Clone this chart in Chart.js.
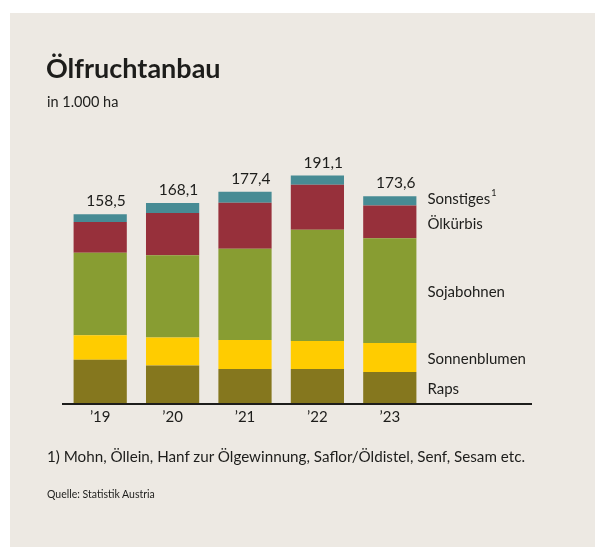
<!DOCTYPE html>
<html>
<head>
<meta charset="utf-8">
<script src="https://cdn.jsdelivr.net/npm/chart.js@4"></script>
<style>
  html, body { margin: 0; padding: 0; background: #ffffff; }
  #wrap { position: relative; width: 595px; height: 547px; overflow: hidden; }
  #panel { position: absolute; left: 10px; top: 13px; right: 0; bottom: 0; background: #ede9e3; }
  #graph { position: absolute; left: 0; top: 0; }
  .txt { position: absolute; font-family: Lato, "Open Sans", sans-serif; color: #1d1d1b; white-space: nowrap; }
  #title { left: 46px; top: 51px; font-size: 27px; font-weight: 700; }
  #unit { left: 47px; top: 93px; font-size: 14.5px; }
  #note { left: 47px; top: 447px; font-size: 15.2px; }
  #source { left: 47px; top: 488px; font-size: 10.5px; }
</style>
</head>
<body>
<div id="wrap">
  <div id="panel"></div>
  <canvas id="graph" width="595" height="547"></canvas>
  <div class="txt" id="title">Ölfruchtanbau</div>
  <div class="txt" id="unit">in 1.000 ha</div>
  <div class="txt" id="note">1) Mohn, Öllein, Hanf zur Ölgewinnung, Saflor/Öldistel, Senf, Sesam etc.</div>
  <div class="txt" id="source">Quelle: Statistik Austria</div>
</div>
<script>
// values in 1.000 ha
const years = ['\u201919', '\u201920', '\u201921', '\u201922', '\u201923'];
const raps = [36.4, 31.6, 28.6, 28.6, 26.1];
const sonnenblumen = [20.6, 23.4, 24.4, 23.5, 24.4];
const sojabohnen = [69.2, 69.2, 76.5, 93.5, 87.8];
const oelkuerbis = [25.9, 35.4, 38.7, 37.8, 27.7];
const sonstiges = [6.4, 8.5, 9.2, 7.7, 7.6];
const totals = [158.5, 168.1, 177.4, 191.1, 173.6];

const seriesNames = ['Raps', 'Sonnenblumen', 'Sojabohnen', 'Ölkürbis', 'Sonstiges'];
const seriesColors = ['#85771e', '#ffcc00', '#889d32', '#97303b', '#478b94'];
const seriesData = [raps, sonnenblumen, sojabohnen, oelkuerbis, sonstiges];

const fontFam = 'Lato, "Open Sans", sans-serif';
const textCol = '#1d1d1b';

const canvas = document.getElementById('graph');
const ctx = canvas.getContext('2d');

// totals above the bars, baseline and the labels on the right
const extras = {
  id: 'extras',
  afterDatasetsDraw(chart) {
    const c = chart.ctx;
    const area = chart.chartArea;
    const y = chart.scales.y;
    c.save();

    // baseline
    c.strokeStyle = '#1d1d1b';
    c.lineWidth = 2;
    c.beginPath();
    c.moveTo(area.left - 2, area.bottom + 1);
    c.lineTo(area.right + 106, area.bottom + 1);
    c.stroke();

    // totals
    const topMeta = chart.getDatasetMeta(seriesData.length - 1);
    c.fillStyle = textCol;
    c.font = '15.5px ' + fontFam;
    c.textAlign = 'right';
    c.textBaseline = 'alphabetic';
    totals.forEach((t, i) => {
      const bar = topMeta.data[i];
      const right = bar.x + bar.width / 2;
      c.fillText(t.toFixed(1).replace('.', ','), right - 1, y.getPixelForValue(t) - 8);
    });

    // series labels next to the last bar
    const last = years.length - 1;
    const lastBar = topMeta.data[last];
    const lx = lastBar.x + lastBar.width / 2 + 11;
    let mids = [];
    let base = 0;
    seriesData.forEach(arr => {
      const v = arr[last];
      mids.push(y.getPixelForValue(base + v / 2) + 2);
      base += v;
    });
    for (let k = 1; k < mids.length; k++) {
      if (mids[k - 1] - mids[k] < 25) mids[k] = mids[k - 1] - 25;
    }
    c.textAlign = 'left';
    c.textBaseline = 'middle';
    c.font = '15px ' + fontFam;
    seriesNames.forEach((name, k) => {
      c.fillText(name, lx, mids[k]);
      if (name === 'Sonstiges') {
        const w = c.measureText(name).width;
        c.font = '9px ' + fontFam;
        c.fillText('1', lx + w + 1, mids[k] - 6);
        c.font = '15px ' + fontFam;
      }
    });
    c.restore();
  }
};

new Chart(ctx, {
  type: 'bar',
  data: {
    labels: years,
    datasets: seriesData.map((d, k) => ({
      label: seriesNames[k],
      data: d,
      backgroundColor: seriesColors[k],
      borderWidth: 0,
      categoryPercentage: 1,
      barPercentage: 0.735
    }))
  },
  options: {
    responsive: false,
    animation: false,
    layout: { padding: { left: 64, right: 169, top: 153, bottom: 116 } },
    plugins: { legend: { display: false }, tooltip: { enabled: false } },
    scales: {
      x: {
        stacked: true,
        grid: { display: false },
        border: { display: false },
        ticks: { color: textCol, font: { family: fontFam, size: 15 }, padding: -3 },
        afterFit(s) { s.height = 28; }
      },
      y: {
        stacked: true,
        display: false,
        min: 0,
        max: 210
      }
    }
  },
  plugins: [extras]
});
</script>
</body>
</html>
